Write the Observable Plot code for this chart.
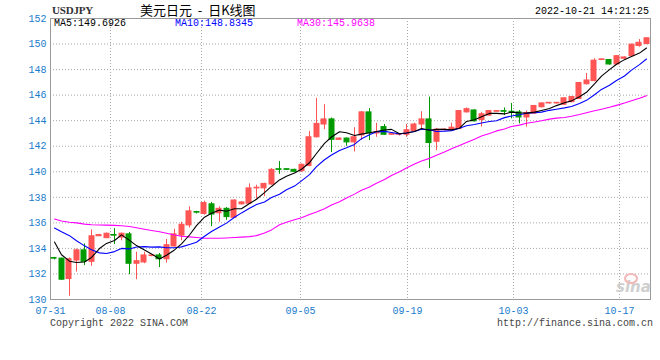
<!DOCTYPE html>
<html><head><meta charset="utf-8">
<script src="https://cdn.jsdelivr.net/npm/d3@7"></script>
<script src="https://cdn.jsdelivr.net/npm/@observablehq/plot@0.6"></script>
<style>
html,body{margin:0;padding:0;background:#fff;}
#wrap{position:relative;width:660px;height:360px;overflow:hidden;background:#fff;}
#chart{position:absolute;left:0;top:0;}
.t{position:absolute;white-space:pre;font-family:"Liberation Mono",monospace;font-size:10px;line-height:12px;}
</style></head><body>
<div id="wrap"><div id="chart"></div></div>
<script>
// ---- data ----
const opens = [133.25,133.2,131.6,133.05,133.85,132.95,134.95,134.8,135.05,134.85,
135.1,132.8,132.9,133.4,133.45,133.15,134.15,135.0,135.8,136.85,
136.7,137.45,136.75,137.1,136.4,137.45,137.5,138.7,138.7,139.0,
140.2,140.2,140.15,140.05,140.45,142.7,143.7,144.1,142.5,142.6,
142.3,142.85,144.65,143.0,143.5,142.9,142.9,142.9,143.2,143.7,
144.1,142.35,143.25,143.25,143.35,144.65,144.8,144.05,144.4,144.7,
144.75,144.7,144.65,144.25,144.55,145.05,145.35,145.35,145.25,145.45,
145.7,146.85,147.1,148.75,148.75,148.4,148.85,149.05,149.85,150.0];
const highs = [133.3,133.25,133.25,133.95,134.35,135.45,135.1,135.2,135.55,135.2,
135.25,133.7,133.7,133.5,133.6,134.7,135.5,136.05,137.25,136.9,
137.7,137.6,137.25,137.2,137.8,137.65,139.05,138.95,139.1,140.25,
140.8,140.2,140.2,140.6,143.15,145.75,145.25,144.2,142.65,142.65,
143.45,144.7,144.95,143.8,143.7,143.0,143.0,143.7,143.8,144.7,
145.85,143.4,143.35,143.8,144.8,145.0,144.85,144.65,144.8,144.75,
145.0,145.35,144.8,144.75,145.2,145.4,145.4,145.4,145.8,145.9,
147.0,147.7,148.85,148.8,148.8,149.1,149.0,150.0,150.35,150.5];
const lows = [133.1,131.5,130.25,132.15,132.65,132.6,134.95,134.8,134.3,134.6,
131.95,131.55,132.8,133.35,132.5,132.85,134.1,134.6,135.6,136.7,
136.6,135.7,136.05,136.2,136.35,137.4,137.45,137.85,138.05,138.95,
139.8,140.1,139.95,139.95,140.4,142.65,143.3,141.5,142.5,142.0,
141.55,142.45,142.45,142.7,142.85,142.85,142.8,142.7,143.15,143.35,
140.25,141.65,143.2,143.2,143.3,144.6,143.9,143.5,144.35,144.7,
144.4,144.15,143.75,143.5,144.5,145.0,145.3,145.3,145.2,145.4,
145.65,146.8,147.05,148.7,148.35,148.35,148.8,149.0,149.75,149.95];
const closes = [133.2,131.55,133.15,133.85,132.95,134.95,135.05,135.15,135.0,135.15,
132.8,133.0,133.45,133.45,133.15,134.25,135.1,135.85,136.9,136.8,
137.55,136.65,137.1,136.45,137.75,137.6,138.7,138.75,139.05,140.15,
140.15,140.15,140.0,140.55,142.7,143.75,144.1,142.5,142.6,142.3,
142.7,144.65,143.0,143.1,142.9,142.95,142.95,143.25,143.7,144.1,
142.25,143.3,143.3,143.45,144.75,144.9,143.95,144.5,144.75,144.75,
144.7,144.65,144.25,144.6,145.15,145.35,145.4,145.4,145.75,145.85,
146.95,147.15,148.7,148.8,148.4,149.05,148.95,149.95,150.1,150.45];
const ma5 = [134.5,133.5,133.0,132.9,132.94,133.29,133.99,134.39,134.62,135.06,
134.63,134.22,133.88,133.57,133.17,133.46,133.88,134.36,135.05,135.78,
136.44,136.75,137.0,136.91,137.1,137.11,137.52,137.85,138.37,138.85,
139.36,139.65,139.9,140.2,140.71,141.43,142.22,142.72,143.13,143.05,
142.84,142.95,143.05,143.15,143.27,143.32,142.98,143.03,143.15,143.39,
143.25,143.32,143.33,143.28,143.41,143.94,144.07,144.31,144.57,144.57,
144.53,144.67,144.62,144.59,144.67,144.8,144.95,145.18,145.41,145.55,
145.87,146.22,146.88,147.49,148.0,148.42,148.78,149.03,149.29,149.69];
const ma10 = [135.6,135.3,135.0,134.6,134.2,133.9,133.65,133.6,133.75,134.0,
133.96,134.11,134.14,134.1,134.12,134.05,134.05,134.12,134.31,134.48,
134.95,135.32,135.68,135.98,136.44,136.78,137.14,137.43,137.64,137.98,
138.24,138.59,138.88,139.29,139.78,140.4,140.94,141.31,141.67,141.88,
142.14,142.59,142.89,143.14,143.16,143.08,142.97,143.04,143.15,143.33,
143.29,143.15,143.18,143.22,143.4,143.6,143.7,143.82,143.93,143.99,
144.24,144.37,144.47,144.58,144.62,144.67,144.81,144.9,145.0,145.11,
145.34,145.59,146.03,146.45,146.78,147.15,147.5,147.96,148.39,148.83];
const ma30 = [136.3,136.15,136.05,136.0,135.9,135.85,135.83,135.82,135.8,135.77,
135.72,135.62,135.5,135.4,135.3,135.18,135.05,134.95,134.9,134.85,
134.8,134.8,134.8,134.82,134.85,134.88,134.92,135.0,135.2,135.45,
135.85,136.05,136.25,136.4,136.65,136.85,137.1,137.4,137.65,137.95,
138.25,138.55,138.8,139.1,139.4,139.7,140.0,140.3,140.6,140.85,
141.05,141.3,141.55,141.8,142.05,142.3,142.55,142.8,143.0,143.2,
143.35,143.55,143.65,143.8,143.9,144.0,144.12,144.2,144.25,144.35,
144.48,144.62,144.78,144.9,145.05,145.2,145.38,145.56,145.75,145.96];
const yTicks = [130,132,134,136,138,140,142,144,146,148,150,152];
const xTickLabels = ["07-31","08-08","08-22","09-05","09-19","10-03","10-17"];
const xTickAt = [-0.5,7.5,19.6,32.8,47.05,61.25,75.4]; // positions in candle-index units
const legendNames = ["MA5","MA10","MA30"];
const legendValues = ["149.6926","148.8345","145.9638"];
const symbol = "USDJPY";
const title = "美元日元  -  日K线图";
const stamp = "2022-10-21 14:21:25";
const footLeft = "Copyright 2022 SINA.COM";
const footRight = "http://finance.sina.com.cn";

// ---- styles ----
const UP = "#ff5555", DOWN = "#009a00", AXIS = "#1a7ccc", GRID = "#a8a8a8";
const MONO = "Liberation Mono, monospace";
const legendColors = ["#000000", "#0000ff", "#ff00ff"];

const idx = d3.range(closes.length);
const candles = idx.map(i => ({i, o: opens[i], h: highs[i], l: lows[i], c: closes[i],
  col: closes[i] >= opens[i] ? UP : DOWN}));

const chart = Plot.plot({
  width: 660, height: 345,
  marginLeft: 50, marginRight: 10, marginTop: 18, marginBottom: 46,
  x: {domain: [-0.5, closes.length - 0.5], axis: null, round: true},
  y: {domain: [130, 152], axis: null},
  color: {type: "identity"},
  style: {background: "transparent", overflow: "visible"},
  marks: [
    Plot.ruleY(yTicks.filter(v => v > 130 && v < 152), {y: d => d, stroke: GRID, strokeDasharray: "1,2"}),
    Plot.ruleX(xTickAt.slice(1), {x: d => d, stroke: GRID, strokeDasharray: "1,2"}),
    Plot.frame({stroke: "#9a9a9a"}),
    Plot.ruleX(candles, {x: "i", y1: "l", y2: "h", stroke: "col"}),
    Plot.rect(candles, {x1: d => d.i - 0.34, x2: d => d.i + 0.34, y1: "o", y2: "c", fill: "col", stroke: "col"}),
    Plot.line(idx, {x: d => d, y: d => ma30[d], stroke: "#ff00ff", strokeWidth: 1.1}),
    Plot.line(idx, {x: d => d, y: d => ma10[d], stroke: "#0000ff", strokeWidth: 1.1}),
    Plot.line(idx, {x: d => d, y: d => ma5[d], stroke: "#000000", strokeWidth: 1.1}),
    Plot.text(yTicks, {x: -0.5, y: d => d, text: d => String(d), textAnchor: "end", dx: -4,
      fill: AXIS, fontSize: 10, fontFamily: MONO}),
    Plot.text(xTickAt, {x: d => d, y: 130, text: (d, i) => xTickLabels[i], dy: 11,
      fill: AXIS, fontSize: 10, fontFamily: MONO})
  ]
});
document.getElementById("chart").appendChild(chart);

// ---- texts around the chart ----
const wrap = document.getElementById("wrap");
function addText(txt, css) {
  const d = document.createElement("div");
  d.className = "t";
  d.textContent = txt;
  Object.assign(d.style, css);
  wrap.appendChild(d);
  return d;
}
addText(symbol, {left: "52px", top: "4px", color: "#333", fontFamily: "'Liberation Serif', serif", fontSize: "11px", fontWeight: "bold", letterSpacing: "-0.2px"});
addText(title, {left: "140px", top: "2px", fontFamily: "'Noto Sans CJK SC', sans-serif", fontSize: "13px", lineHeight: "16px", color: "#000"});
addText(stamp, {right: "11px", top: "6px", color: "#000"});
const lx = [54, 175, 297];
legendNames.forEach((n, k) => addText(n + ":" + legendValues[k], {left: lx[k] + "px", top: "18px", color: legendColors[k]}));
addText(footLeft, {left: "50px", top: "318px", color: "#444"});
addText(footRight, {right: "7px", top: "318px", color: "#444"});
// faint watermark
addText("sina", {left: "616px", top: "279px", fontFamily: "'DejaVu Sans', sans-serif", fontSize: "15px", lineHeight: "16px", fontWeight: "bold", fontStyle: "italic", color: "#cfcfcf"});
const eye = document.createElement("div");
Object.assign(eye.style, {position: "absolute", left: "624px", top: "273px", width: "10px", height: "7px", borderRadius: "50%", border: "2px solid #f3b8b8"});
wrap.appendChild(eye);
</script>
</body></html>
